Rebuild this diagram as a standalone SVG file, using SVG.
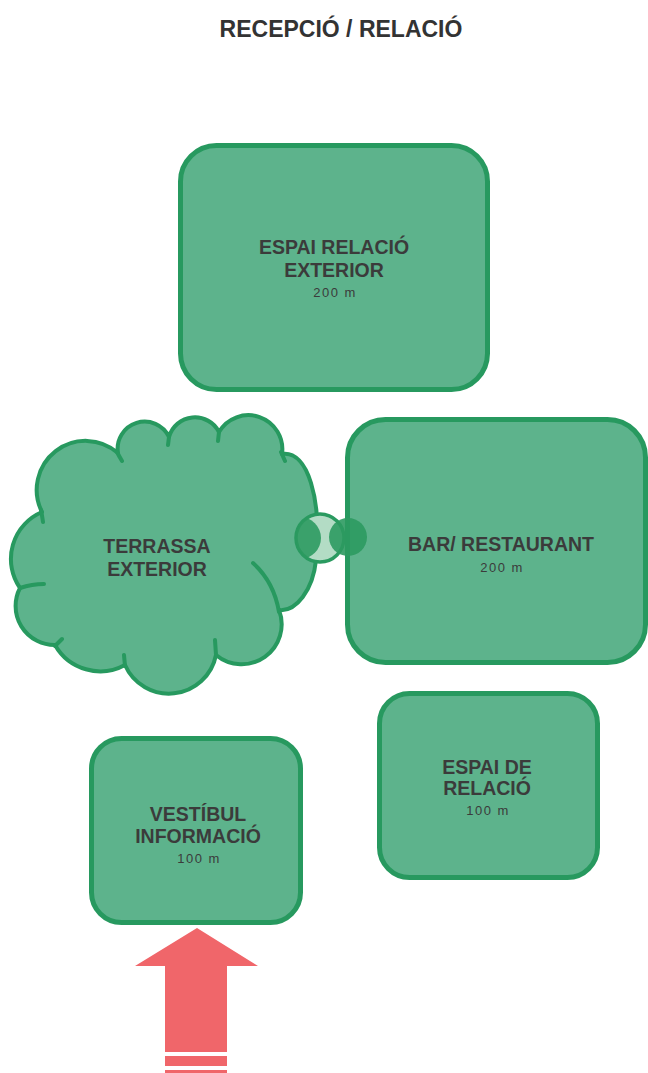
<svg xmlns="http://www.w3.org/2000/svg" width="648" height="1073" viewBox="0 0 648 1073">
<defs>
<style>
.box{fill:#5db38c;stroke:#27995f;stroke-width:5}
.cl{fill:#5db38c;stroke:#27995f;stroke-width:4;stroke-linejoin:round}
.hint{fill:none;stroke:#27995f;stroke-width:4;stroke-linecap:round}
.lb{font-family:"Liberation Sans",Arial,sans-serif;font-weight:bold;font-size:19.5px;fill:#3b3b3b;text-anchor:middle}
.ar{font-family:"Liberation Sans",Arial,sans-serif;font-size:13px;letter-spacing:1.5px;fill:#3b3b3b;text-anchor:middle}
.tt{font-family:"Liberation Sans",Arial,sans-serif;font-weight:bold;font-size:23px;fill:#333;text-anchor:middle}
.dk{fill:#2c9a61;opacity:0.9}
</style>
<clipPath id="ringclip"><circle cx="320" cy="538" r="24"/></clipPath>
</defs>
<rect width="648" height="1073" fill="#fff"/>
<text class="tt" x="341" y="37">RECEPCIÓ / RELACIÓ</text>

<g id="espai-relacio-exterior">
<rect class="box" x="180.5" y="145.5" width="307" height="244" rx="36"/>
<text class="lb" x="334" y="254">ESPAI RELACIÓ</text>
<text class="lb" x="334" y="277">EXTERIOR</text>
<text class="ar" x="335" y="297">200 m</text>
</g>

<g id="terrassa-exterior">
<path class="cl" d="M42,512 A49 49 0 0 1 118,453 A27 27 0 0 1 169,437 A27 27 0 0 1 219,432 A34 34 0 0 1 282,454 C308,450 322,500 316,560 C313,590 296,612 279,610 A40 40 0 0 1 216,655 A48 48 0 0 1 125,665 A52 52 0 0 1 55,645 A39 39 0 0 1 20,588 A51 51 0 0 1 42,512 Z"/>
<path class="hint" d="M41,510 Q42,515 43,522 M117,452 Q119,456 122,461 M169,437 L168,445 M219,432 L218,441 M281,452 L285,461 M253,563 Q274,582 279,612 M216,655 L215,640 M125,666 L124,655 M55,646 L62,639 M20,588 Q32,584 44,584"/>
<text class="lb" x="157" y="553">TERRASSA</text>
<text class="lb" x="157" y="576">EXTERIOR</text>
</g>

<g id="connectors">
<circle cx="320" cy="538" r="24" fill="#b3dcc5" stroke="#2a9a60" stroke-width="3.5"/>
<circle class="dk" cx="300" cy="538" r="21" clip-path="url(#ringclip)"/>
</g>

<g id="bar-restaurant">
<rect class="box" x="347.5" y="419.5" width="298" height="243" rx="38"/>
<text class="lb" x="501" y="551">BAR/ RESTAURANT</text>
<text class="ar" x="502" y="572">200 m</text>
</g>

<g id="connector-end">
<circle class="dk" cx="348" cy="537" r="19"/>
</g>

<g id="espai-de-relacio">
<rect class="box" x="379.5" y="693.5" width="218" height="184" rx="30"/>
<text class="lb" x="487" y="774">ESPAI DE</text>
<text class="lb" x="487" y="795">RELACIÓ</text>
<text class="ar" x="488" y="815">100 m</text>
</g>

<g id="vestibul-informacio">
<rect class="box" x="91.5" y="738.5" width="209" height="184" rx="30"/>
<text class="lb" x="198" y="821">VESTÍBUL</text>
<text class="lb" x="198" y="843">INFORMACIÓ</text>
<text class="ar" x="199" y="863">100 m</text>
</g>

<g id="entrance-arrow" fill="#f0666a">
<polygon points="197,928 258,966 227,966 227,1052 165,1052 165,966 135,966"/>
<rect x="165" y="1056" width="62" height="10"/>
<rect x="165" y="1070" width="62" height="3"/>
</g>
</svg>
